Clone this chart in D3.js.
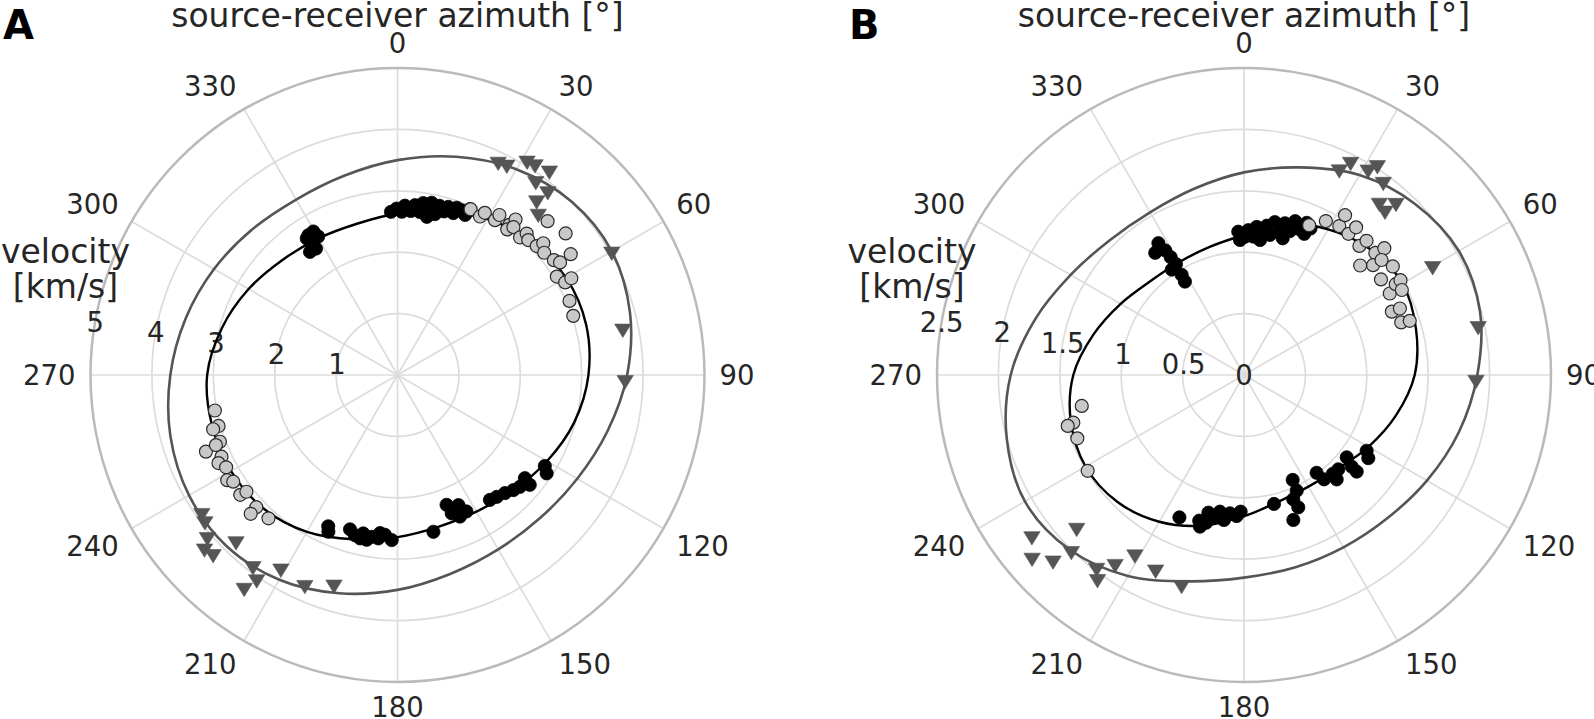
<!DOCTYPE html>
<html><head><meta charset="utf-8">
<script src="https://cdn.jsdelivr.net/npm/d3@7"></script>
<style>
body{margin:0;background:#fff}
svg{display:block}
text{font-family:"DejaVu Sans",sans-serif;fill:#262626}
</style>
</head><body>
<svg id="chart" width="1594" height="719"></svg>
<script>
// ---------------- DATA ----------------
const angleTicks = [0,30,60,90,120,150,180,210,240,270,300,330];
const curveAzimuths = [0,15,30,45,60,75,90,105,120,135,150,165,180,195,210,225,240,255,270,285,300,315,330,345];

// Panel A
const A_radialTicks = [1,2,3,4,5];
const A_black = [
 [357.7,2.66],[359.7,2.71],[1.5,2.66],[2.5,2.76],[4.6,2.68],[5.9,2.78],[7.8,2.68],[8.5,2.83],[10.6,2.73],[11.2,2.86],
 [13.1,2.69],[13.9,2.84],[15.9,2.77],[16.8,2.86],[19.0,2.79],[19.5,2.89],[21.3,2.88],[22.9,2.83],[23.6,2.95],[10.5,2.62],
 [327.5,2.70],[329.6,2.71],[330.2,2.60],[326.9,2.56],[324.6,2.46],[327.2,2.45],[326.4,2.67],
 [204.6,2.71],[203.8,2.79],[197.1,2.63],[194.9,2.70],[192.9,2.73],[190.6,2.73],[189.1,2.67],[186.7,2.68],[184.5,2.61],
 [182.0,2.69],[192.2,2.64],[186.3,2.59],[167.1,2.62],[159.3,2.26],[158.6,2.42],[156.2,2.52],[153.2,2.49],[154.9,2.34],
 [157.5,2.36],[143.5,2.53],[140.8,2.56],[137.7,2.60],[134.8,2.66],[132.4,2.70],[129.0,2.67],[129.7,2.80],[121.7,2.82],[123.4,2.91]
];
const A_gray = [
 [23.8,2.95],[27.5,2.91],[28.3,3.00],[32.2,2.98],[32.5,3.09],[36.7,3.05],[37.0,2.97],[37.2,3.18],[38.1,3.06],[41.7,3.00],
 [42.4,3.12],[44.1,3.06],[47.2,3.09],[47.9,3.20],[50.2,3.11],[53.7,3.16],[55.3,3.22],[58.3,3.05],[61.1,3.12],[60.9,3.24],
 [55.1,3.44],[49.9,3.58],[44.3,3.50],[66.7,3.05],[71.4,3.02],
 [259.0,3.03],[254.1,3.03],[253.6,3.13],[249.4,3.09],[248.2,3.36],[248.9,3.17],[245.1,3.16],[243.8,3.25],[241.7,3.17],
 [238.3,3.26],[237.0,3.19],[232.7,3.22],[232.3,3.11],[226.9,3.15],[226.6,3.29],[222.0,3.14]
];
const A_triangles = [
 [25.5,3.81],[27.7,3.83],[31.4,4.05],[33.4,4.07],[36.9,4.12],[35.8,3.85],[39.6,3.84],[38.9,3.61],[41.5,3.46],[60.5,4.01],
 [78.9,3.74],[91.8,3.71],
 [234.4,3.92],[232.4,3.96],[229.2,4.09],[227.7,4.25],[225.5,4.21],[223.8,3.80],[216.8,3.93],[214.3,4.07],[215.5,4.30],
 [210.8,3.71],[203.6,3.77],[196.7,3.60]
];
const A_innerFit = [2.63,2.75,2.93,3.08,3.17,3.18,3.11,2.98,2.81,2.66,2.57,2.56,2.64,2.77,2.95,3.08,3.13,3.13,3.10,2.96,2.80,2.65,2.57,2.55];
const A_outerFit = [3.50,3.68,3.87,4.00,4.03,3.92,3.74,3.54,3.38,3.29,3.28,3.35,3.50,3.68,3.85,3.94,3.92,3.83,3.70,3.57,3.45,3.35,3.30,3.36];

// Panel B
const B_radialTicks = [0,0.5,1,1.5,2,2.5];
const B_black = [
 [357.7,1.168],[358.3,1.10],[1.7,1.18],[3.8,1.13],[4.9,1.21],[6.8,1.107],[8.7,1.23],[10.5,1.16],[11.4,1.27],[14.1,1.20],
 [15.1,1.28],[17.7,1.23],[18.4,1.32],[21.0,1.27],[23.1,1.25],[22.4,1.34],[24.4,1.31],[0.4,1.126],[7.7,1.17],[15.8,1.157],
 [327.0,1.28],[324.0,1.23],[327.7,1.20],[328.1,1.13],[328.5,1.06],[325.6,1.04],[328.1,0.96],[327.7,0.90],
 [204.4,1.273],[197.1,1.241],[196.2,1.286],[194.5,1.158],[192.2,1.186],[190.0,1.13],[187.9,1.192],[185.8,1.132],[183.0,1.15],
 [181.4,1.113],[194.4,1.242],[166.9,1.078],[155.1,0.942],[155.5,1.035],[158.4,1.089],[157.7,1.165],[161.2,1.247],[143.4,0.992],
 [142.5,1.071],[138.1,1.082],[135.0,1.086],[128.7,1.072],[130.4,1.152],[130.6,1.209],[121.7,1.174],[123.8,1.218],[138.4,1.137]
];
const B_gray = [
 [23.5,1.33],[28.0,1.42],[32.6,1.44],[32.3,1.54],[36.5,1.43],[37.2,1.51],[41.8,1.41],[42.4,1.48],[47.1,1.46],[47.9,1.54],
 [49.6,1.38],[46.7,1.30],[50.1,1.46],[53.9,1.50],[55.1,1.36],[60.8,1.36],[59.1,1.44],[58.8,1.49],[61.7,1.46],[66.8,1.31],
 [66.9,1.38],[71.5,1.35],[71.9,1.42],
 [259.2,1.345],[254.4,1.443],[253.9,1.494],[249.2,1.452],[238.5,1.493]
];
const B_triangles = [
 [25.1,1.83],[26.8,1.925],[31.4,1.94],[32.7,2.01],[36.1,1.925],[38.5,1.77],[41.0,1.75],[41.8,1.857],[60.5,1.765],[78.7,1.945],
 [91.7,1.89],
 [232.4,2.18],[227.2,1.857],[228.9,2.29],[225.5,2.18],[224.1,2.02],[217.1,1.99],[215.4,2.06],[214.0,1.877],[211.0,1.725],
 [204.2,1.756],[196.4,1.80]
];
const B_innerFit = [1.14,1.27,1.37,1.45,1.49,1.45,1.39,1.28,1.17,1.08,1.05,1.07,1.15,1.27,1.38,1.46,1.49,1.46,1.39,1.27,1.16,1.08,1.06,1.08];
const B_outerFit = [1.65,1.75,1.88,1.97,2.02,1.99,1.90,1.81,1.72,1.65,1.62,1.62,1.65,1.74,1.89,2.01,2.06,2.00,1.90,1.76,1.63,1.55,1.53,1.57];

const titleText = "source-receiver azimuth [°]";
const radialTitle = ["velocity", "[km/s]"];

// ---------------- DRAWING ----------------
const svg = d3.select("#chart");
const R = 307;
const deg = Math.PI / 180;

const panels = [
  {letter:"A", letterX:3, cx:397.5, cy:375, max:5, ticks:A_radialTicks, black:A_black, gray:A_gray, tri:A_triangles, inner:A_innerFit, outer:A_outerFit},
  {letter:"B", letterX:849, cx:1244, cy:375, max:2.5, ticks:B_radialTicks, black:B_black, gray:B_gray, tri:B_triangles, inner:B_innerFit, outer:B_outerFit}
];

const tickFont = 27.5, digitH = 20, titleFont = 33;

panels.forEach(p => {
  const r = d3.scaleLinear().domain([0, p.max]).range([0, R]);
  const g = svg.append("g").attr("transform", `translate(${p.cx},${p.cy})`);
  const px = (az, v) => r(v) * Math.sin(az * deg);
  const py = (az, v) => -r(v) * Math.cos(az * deg);

  // grid rings
  g.selectAll("circle.ring").data(p.ticks.filter(t => t > 0 && t < p.max)).join("circle")
    .attr("class","ring").attr("r", d => r(d)).attr("fill","none")
    .attr("stroke","#dcdcdc").attr("stroke-width",1.7);
  // spokes
  g.selectAll("line.spoke").data(angleTicks).join("line")
    .attr("x1",0).attr("y1",0)
    .attr("x2", d => px(d, p.max)).attr("y2", d => py(d, p.max))
    .attr("stroke","#dcdcdc").attr("stroke-width",1.7);
  // outer boundary
  g.append("circle").attr("r", r(p.max)).attr("fill","none")
    .attr("stroke","#bababa").attr("stroke-width",2.5);

  // radial tick labels along 280 deg
  g.selectAll("text.rt").data(p.ticks).join("text")
    .attr("class","rt")
    .attr("x", d => px(280, d)).attr("y", d => py(280, d) + digitH/2)
    .attr("text-anchor","middle").attr("font-size", tickFont)
    .text(d => String(d));

  // angular tick labels
  const rl = R + 15;
  angleTicks.forEach(a => {
    const s = Math.round(Math.sin(a*deg)*1000)/1000, c = Math.round(Math.cos(a*deg)*1000)/1000;
    const x = rl * s, y = -rl * c;
    const anchor = s > 0 ? "start" : (s < 0 ? "end" : "middle");
    const base = c > 0 ? y : (c < 0 ? y + digitH : y + digitH/2);
    g.append("text").attr("x", x).attr("y", base)
      .attr("text-anchor", anchor).attr("font-size", tickFont).text(String(a));
  });

  // fitted curves
  const line = d3.lineRadial()
    .angle((d,i) => curveAzimuths[i] * deg)
    .radius(d => r(d))
    .curve(d3.curveCatmullRomClosed.alpha(0.5));
  g.append("path").attr("d", line(p.outer)).attr("fill","none")
    .attr("stroke","#555555").attr("stroke-width",2.6);
  g.append("path").attr("d", line(p.inner)).attr("fill","none")
    .attr("stroke","#000000").attr("stroke-width",2.4);

  // markers
  g.selectAll("circle.blk").data(p.black).join("circle")
    .attr("class","blk").attr("cx", d => px(d[0], d[1])).attr("cy", d => py(d[0], d[1]))
    .attr("r", 6.6).attr("fill","#000").attr("stroke","#000").attr("stroke-width",0.8);
  g.selectAll("circle.gry").data(p.gray).join("circle")
    .attr("class","gry").attr("cx", d => px(d[0], d[1])).attr("cy", d => py(d[0], d[1]))
    .attr("r", 6.5).attr("fill","#c8c8c8").attr("stroke","#2a2a2a").attr("stroke-width",1.2);
  g.selectAll("path.tri").data(p.tri).join("path")
    .attr("class","tri")
    .attr("transform", d => `translate(${px(d[0], d[1])},${py(d[0], d[1])})`)
    .attr("d","M-8.2,-6.7L8.2,-6.7L0,6.7Z")
    .attr("fill","#555555").attr("stroke","#555555").attr("stroke-width",0.6);

  // titles
  svg.append("text").attr("x", p.cx).attr("y", 27).attr("text-anchor","middle")
    .attr("font-size", titleFont).text(titleText);
  radialTitle.forEach((t,i) => {
    svg.append("text").attr("x", p.cx - 332).attr("y", 263 + i*35)
      .attr("text-anchor","middle").attr("font-size", titleFont).text(t);
  });
  svg.append("text").attr("x", p.letterX).attr("y", 39)
    .attr("font-size", 40).attr("font-weight","bold").style("fill","#000").text(p.letter);
});
</script>
</body></html>
